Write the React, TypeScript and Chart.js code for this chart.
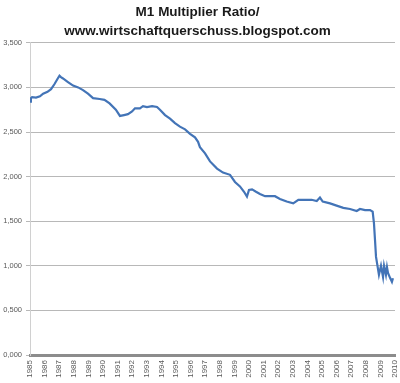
import React, { useEffect, useRef } from "react";
import { Chart, registerables } from "chart.js";

Chart.register(...registerables);

const titleLines = ["M1 Multiplier Ratio/", "www.wirtschaftquerschuss.blogspot.com"];

const yearLabels = [
  1985, 1986, 1987, 1988, 1989, 1990, 1991, 1992, 1993, 1994, 1995, 1996, 1997,
  1998, 1999, 2000, 2001, 2002, 2003, 2004, 2005, 2006, 2007, 2008, 2009, 2010,
];

const dates = [
  1985.0, 1985.06, 1985.14, 1985.41, 1985.68, 1985.9, 1986.2, 1986.44, 1986.67, 1986.9,
  1987.02, 1987.12, 1987.26, 1987.6, 1987.95, 1988.3, 1988.63, 1988.97, 1989.32, 1989.77,
  1990.1, 1990.45, 1990.88, 1991.16, 1991.44, 1991.71, 1991.99, 1992.19,
  1992.53, 1992.74, 1993.01, 1993.36, 1993.7, 1993.9, 1994.25, 1994.59, 1994.93, 1995.27,
  1995.62, 1995.96, 1996.3, 1996.51, 1996.64, 1996.99, 1997.33, 1997.81, 1998.22, 1998.7,
  1999.04, 1999.38, 1999.66, 1999.86, 2000.0, 2000.21, 2000.48, 2000.75, 2001.1, 2001.44,
  2001.78, 2002.12, 2002.58, 2003.03, 2003.38, 2003.84, 2004.29, 2004.64, 2004.86, 2005.05,
  2005.55, 2006.0, 2006.46, 2006.92, 2007.38, 2007.6, 2007.95, 2008.29, 2008.47,
  2008.56, 2008.63, 2008.7, 2008.77, 2008.9, 2009.04, 2009.18,
  2009.25, 2009.38, 2009.45, 2009.52, 2009.66, 2009.79, 2009.86,
];

const ratio = [
  2.84, 2.88, 2.89, 2.885, 2.9, 2.93, 2.95, 2.98, 3.035, 3.1,
  3.13, 3.115, 3.1, 3.06, 3.02, 3.0, 2.97, 2.93, 2.88, 2.87,
  2.86, 2.82, 2.75, 2.68, 2.69, 2.7, 2.73, 2.765,
  2.765, 2.79, 2.78, 2.79, 2.78, 2.75, 2.69, 2.65, 2.6, 2.56,
  2.53, 2.48, 2.44, 2.39, 2.33, 2.26, 2.17, 2.09, 2.045, 2.02,
  1.94, 1.89, 1.83, 1.775, 1.85, 1.857, 1.83, 1.805, 1.78, 1.78,
  1.78, 1.75, 1.72, 1.7, 1.74, 1.74, 1.74, 1.727, 1.765, 1.72,
  1.7, 1.675, 1.65, 1.637, 1.615, 1.637, 1.625, 1.625, 1.607,
  1.476, 1.29, 1.1, 1.03, 0.9, 1.0, 0.875,
  1.0, 0.9, 0.985, 0.92, 0.865, 0.82, 0.86,
];

export default function App() {
  const canvasRef = useRef<HTMLCanvasElement | null>(null);

  useEffect(() => {
    if (!canvasRef.current) return;
    const points = dates.map((d, i) => ({ x: d, y: ratio[i] }));
    const chart = new Chart(canvasRef.current, {
      type: "line",
      data: {
        datasets: [
          {
            data: points,
            borderColor: "#4374b7",
            borderWidth: 2.2,
            pointRadius: 0,
            tension: 0,
            fill: false,
          },
        ],
      },
      options: {
        animation: false,
        responsive: false,
        maintainAspectRatio: false,
        layout: { padding: { left: 0, right: 5, top: 0, bottom: 0 } },
        plugins: {
          legend: { display: false },
          tooltip: { enabled: false },
          title: {
            display: true,
            text: titleLines,
            color: "#1a1a1a",
            font: { family: "'Liberation Sans', Arial, sans-serif", size: 13.5, weight: "bold", lineHeight: 1.4 },
            padding: { top: 3, bottom: 2 },
          },
        },
        scales: {
          x: {
            type: "linear",
            min: 1985,
            max: 2010,
            afterBuildTicks: (scale: any) => {
              scale.ticks = yearLabels.map((v) => ({ value: v }));
            },
            afterFit: (scale: any) => {
              scale.height = 28;
              scale.paddingLeft = 0;
              scale.paddingRight = 0;
            },
            grid: { display: false, drawTicks: false },
            border: { display: true, color: "#8c8c8c", width: 3 },
            ticks: {
              autoSkip: false,
              minRotation: 90,
              maxRotation: 90,
              padding: 5,
              color: "#595959",
              font: { family: "'Liberation Sans', Arial, sans-serif", size: 8 },
              callback: (v: any) => String(v),
            },
          },
          y: {
            min: 0,
            max: 3.5,
            afterFit: (scale: any) => {
              scale.width = 30;
            },
            grid: { color: "#b8b8b8", lineWidth: 1, tickLength: 4 },
            border: { display: true, color: "#d0d0d0", width: 1 },
            ticks: {
              stepSize: 0.5,
              padding: 4,
              color: "#595959",
              font: { family: "'Liberation Sans', Arial, sans-serif", size: 7.5 },
              callback: (v: any) => Number(v).toFixed(3).replace(".", ","),
            },
          },
        },
      },
    });
    return () => chart.destroy();
  }, []);

  return (
    <div style={{ position: "fixed", left: 0, top: 0, width: 400, height: 383, background: "#fff" }}>
      <canvas ref={canvasRef} width={400} height={383} style={{ width: 400, height: 383 }} />
    </div>
  );
}
